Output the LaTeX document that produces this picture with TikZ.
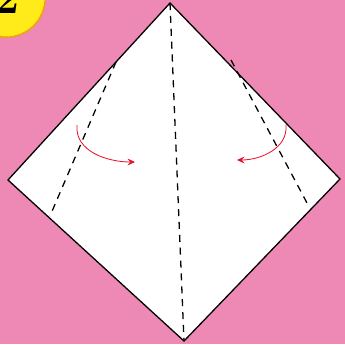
\documentclass[tikz,border=0pt]{standalone}
\usepackage{tikz}
\usetikzlibrary{arrows.meta}
\definecolor{bgpink}{HTML}{EE89B5}
\definecolor{badge}{HTML}{FFEB1A}
\definecolor{badgerim}{HTML}{F0A000}
\definecolor{foldred}{HTML}{E8102E}
\tikzset{
  paper/.style={fill=white, draw=black, line width=1.1pt, line join=miter},
  crease/.style={draw=black, dash pattern=on 6pt off 5pt, line width=1.1pt},
  foldarrow/.style={-{Stealth[length=2.2mm, width=2mm]}, draw=foldred, line width=0.7pt}
}
\begin{document}
\begin{tikzpicture}[x=0.03cm, y=-0.03cm]
\useasboundingbox (0,0) rectangle (345,344);
\fill[bgpink] (0,0) rectangle (345,344);
% the square, set on its point
\coordinate (top) at (170,3);
\coordinate (lft) at (8,180);
\coordinate (rgt) at (340,179);
\coordinate (bot) at (184,341);
\path[paper] (top) -- (rgt) -- (bot) -- (lft) -- cycle;
% creases
\draw[crease] (top) -- (bot);
\coordinate (l1) at (116,62);
\coordinate (l2) at (50,216);
\coordinate (r1) at (231,60);
\coordinate (r2) at (307,203);
\draw[crease] (l1) -- (l2);
\draw[crease] (r1) -- (r2);
% fold arrows
\coordinate (la) at (77,125);
\coordinate (lb) at (135,162);
\coordinate (ra) at (286,125);
\coordinate (rb) at (237,160);
\draw[foldarrow] (la) to[out=-95,in=180,looseness=1.0] (lb);
\draw[foldarrow] (ra) to[out=-85,in=0,looseness=1.0] (rb);
% step badge
\begin{scope}
\clip (0,0) rectangle (345,344);
\node[circle, fill=badge, draw=badgerim, line width=1.2pt, minimum size=2.35cm] (badge) at (6,-2) {};
\node[font=\bfseries\fontsize{38}{38}\selectfont, anchor=base] (num) at (7,14) {2};
\end{scope}
\end{tikzpicture}
\end{document}
